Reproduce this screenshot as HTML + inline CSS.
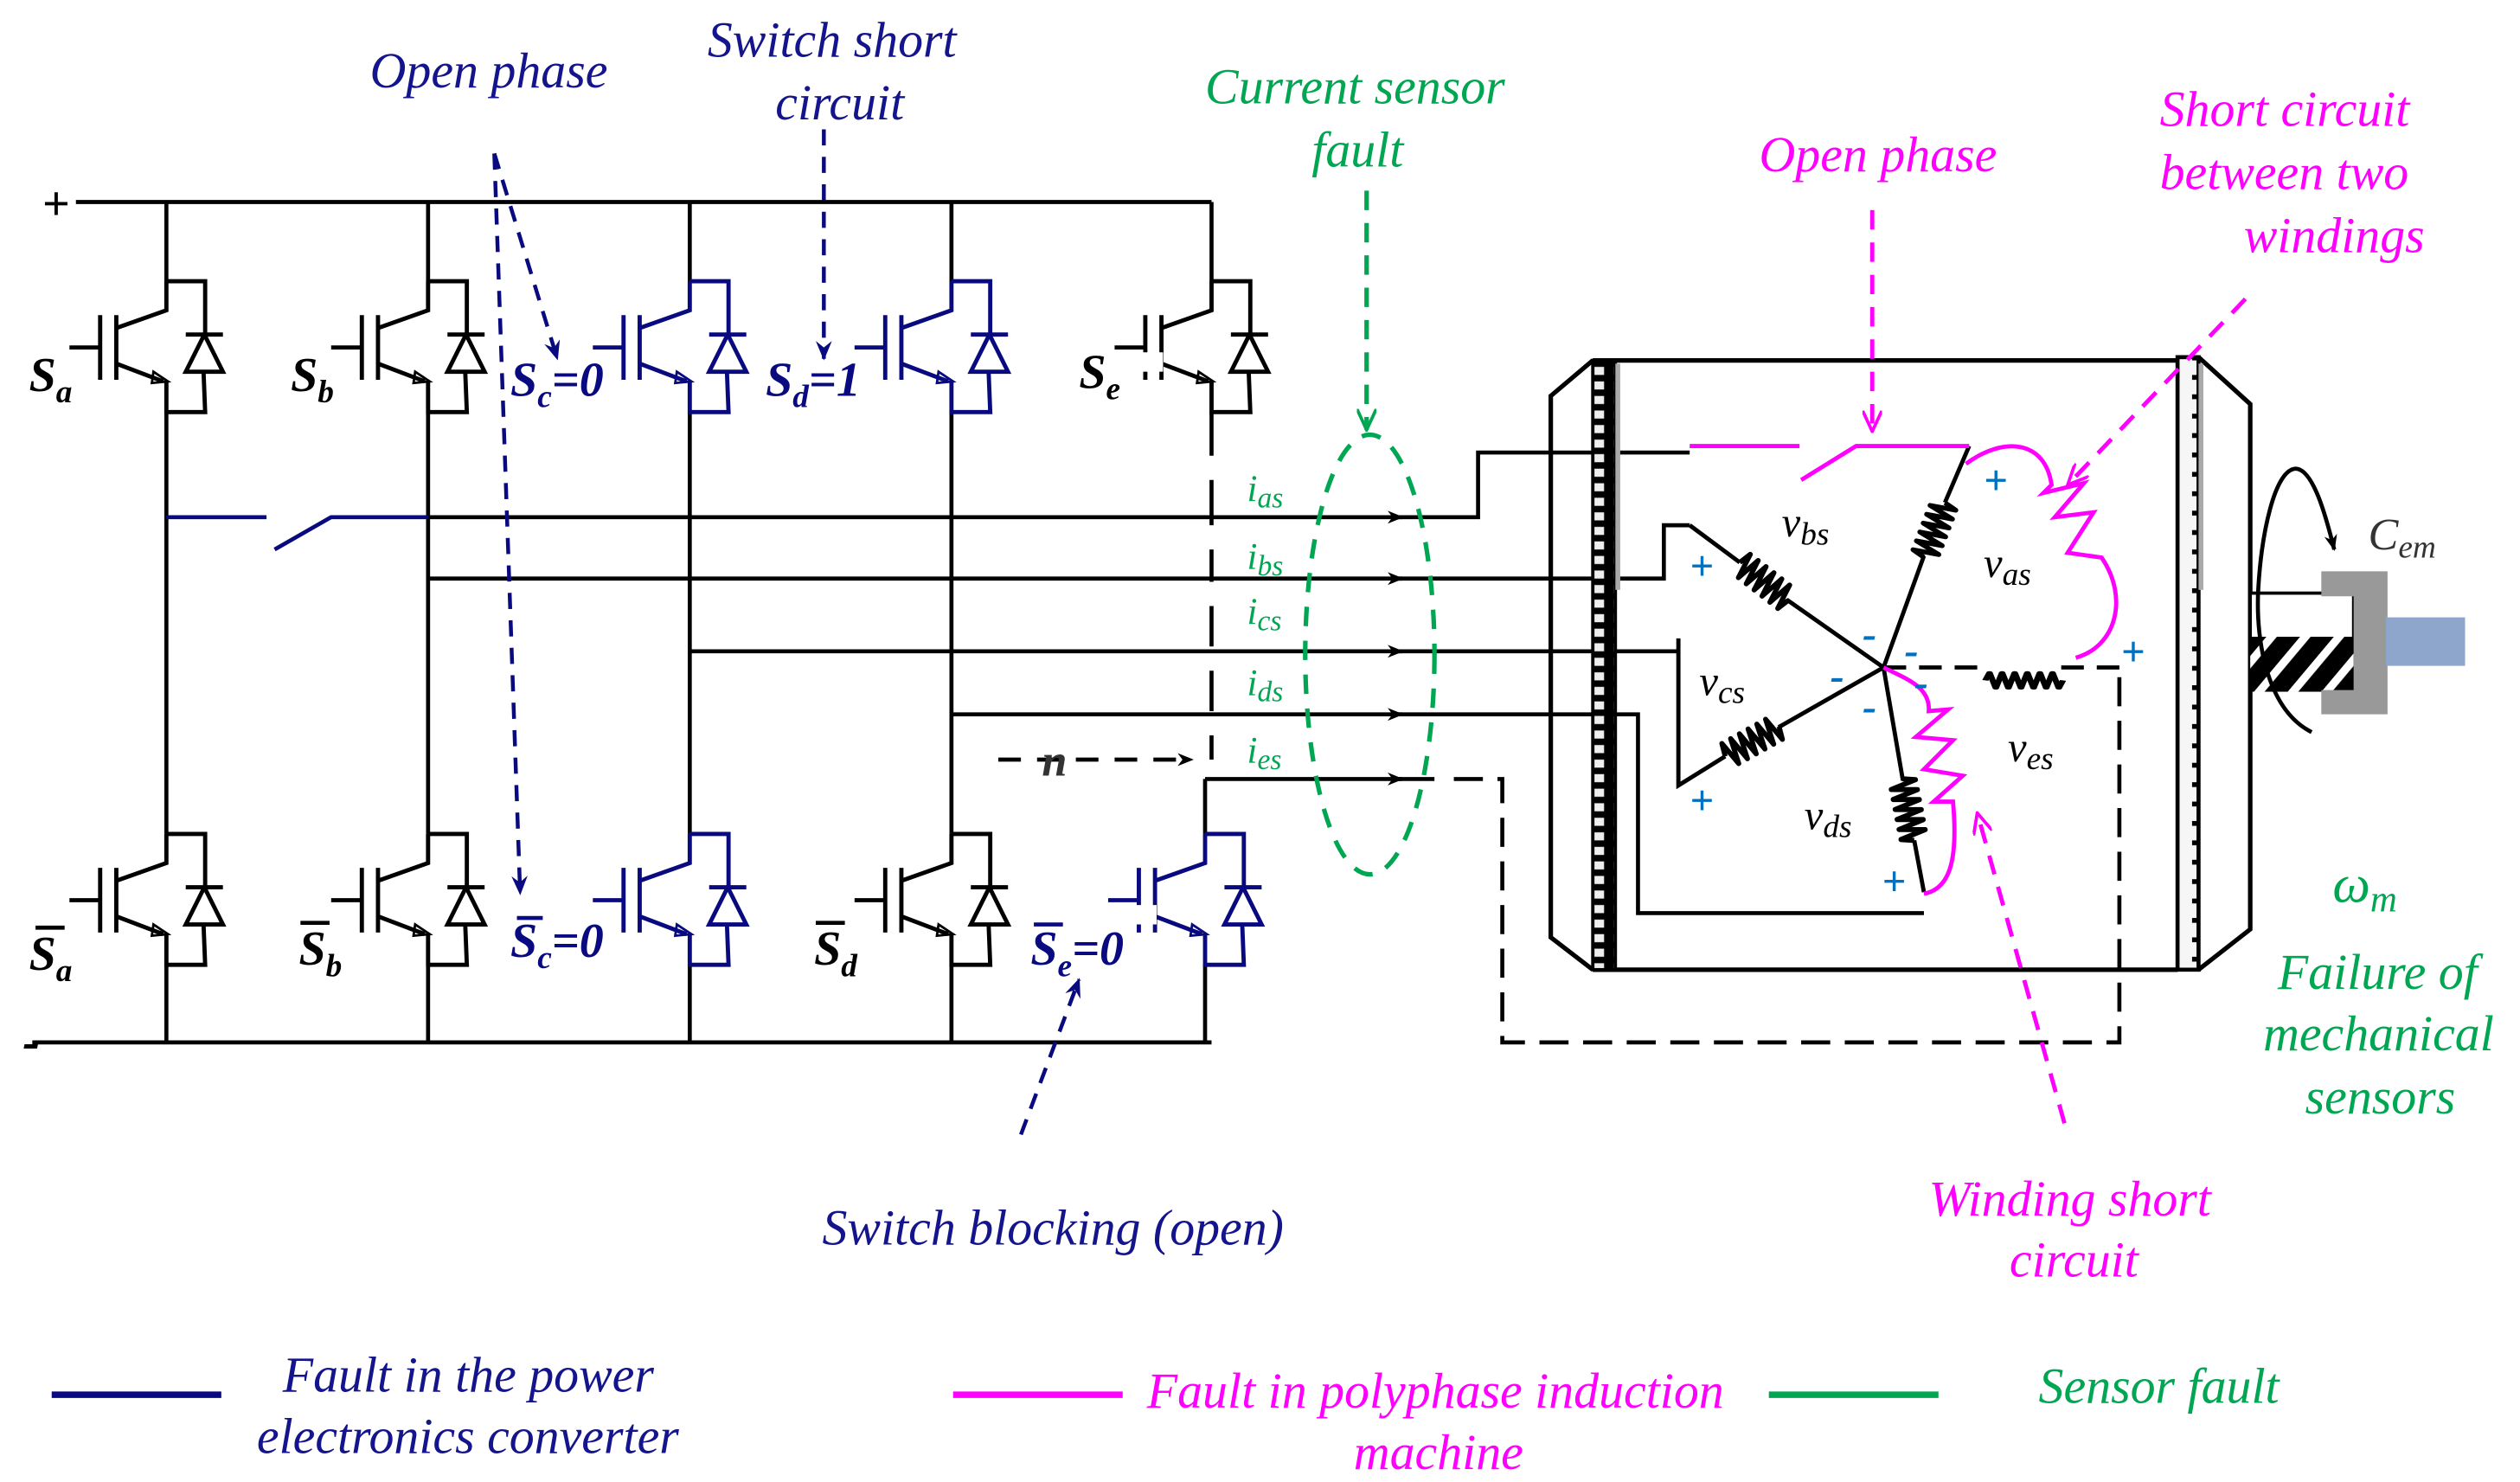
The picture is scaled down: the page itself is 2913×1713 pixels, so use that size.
<!DOCTYPE html>
<html><head><meta charset="utf-8"><style>
html,body{margin:0;padding:0;background:#fff;}
svg{display:block;}
text{font-family:"Liberation Serif",serif;font-style:italic;}
</style></head><body>
<svg width="2913" height="1713" viewBox="0 0 1560 917" preserveAspectRatio="none" xmlns="http://www.w3.org/2000/svg">
<defs>
<marker id="ak" markerWidth="10" markerHeight="8" refX="9" refY="4" orient="auto" markerUnits="userSpaceOnUse"><path d="M0,0 L10,4 L0,8 L3,4 Z" fill="#000"/></marker>
<marker id="ab" markerWidth="12" markerHeight="10" refX="11" refY="5" orient="auto" markerUnits="userSpaceOnUse"><path d="M0,0 L12,5 L0,10 L4,5 Z" fill="#0a0a80"/></marker>
<marker id="am" markerWidth="14" markerHeight="12" refX="13" refY="6" orient="auto" markerUnits="userSpaceOnUse"><path d="M0,0 L13,6 L0,12" fill="none" stroke="#ff00ff" stroke-width="2"/></marker>
<marker id="ag" markerWidth="14" markerHeight="12" refX="13" refY="6" orient="auto" markerUnits="userSpaceOnUse"><path d="M0,0 L13,6 L0,12" fill="none" stroke="#00a651" stroke-width="2"/></marker>
<g id="sw" fill="none" stroke-width="2.6">
  <path d="M0,0 V18 L-31,29 M-31,21 V61 M-41,21 V61 M-60,41 H-41 M-31,51 L-2,62 M0,62 V81 H24 L23,56 M0,0 H24 V32"/>
  <path d="M12,33 H35 M12,56 H35 L23.5,33 Z"/>
  <path d="M-8,56 L1,62 L-9,63 Z" stroke-width="1.5"/>
</g>
<path id="coil" d="M0,0 l2,-8 l3,16 l3,-16 l3,16 l3,-16 l3,16 l3,-16 l3,16 l3,-16 l3,16 l3,-16 l3,16 l2,-8" fill="none" stroke="#000" stroke-width="3" stroke-linejoin="round"/>
<pattern id="chk" width="12" height="9" patternUnits="userSpaceOnUse"><rect width="12" height="9" fill="#000"/><rect x="3" y="2" width="6" height="5" fill="#eee"/></pattern>
<pattern id="dots" width="13" height="12" patternUnits="userSpaceOnUse"><rect width="13" height="12" fill="#f6f6f6"/><rect x="5" y="4" width="3" height="3" fill="#000"/></pattern>
<pattern id="hatch" width="16" height="16" patternUnits="userSpaceOnUse" patternTransform="rotate(40)"><rect width="16" height="16" fill="#000"/><rect width="5" height="16" fill="#fff"/></pattern>
</defs>

<!-- buses -->
<g stroke="#000" stroke-width="2.5" fill="none">
<path d="M47,125 H750 M20,645 H750"/>
<path d="M103,125 V174 M103,255 V516 M103,597 V645"/>
<path d="M265,125 V174 M265,255 V516 M265,597 V645"/>
<path d="M427,125 V174 M427,255 V516 M427,597 V645"/>
<path d="M589,125 V174 M589,255 V516 M589,597 V645"/>
<path d="M750,125 V174 M750,255 V282 M750,297 V325 M750,340 V360 M750,375 V400 M750,415 V440 M750,455 V470 M746,482 V516 M746,597 V645"/>
</g>
<text x="26" y="136" font-style="normal" font-weight="bold" font-family="Liberation Sans" font-size="30">+</text>
<text x="14" y="655" font-style="normal" font-weight="bold" font-family="Liberation Sans" font-size="32">-</text>

<!-- switches -->
<use href="#sw" x="103" y="174" stroke="#000"/>
<use href="#sw" x="265" y="174" stroke="#000"/>
<use href="#sw" x="427" y="174" stroke="#0a0a80"/>
<use href="#sw" x="589" y="174" stroke="#0a0a80"/>
<use href="#sw" x="750" y="174" stroke="#000"/>
<use href="#sw" x="103" y="516" stroke="#000"/>
<use href="#sw" x="265" y="516" stroke="#000"/>
<use href="#sw" x="427" y="516" stroke="#0a0a80"/>
<use href="#sw" x="589" y="516" stroke="#000"/>
<use href="#sw" x="746" y="516" stroke="#0a0a80"/>
<!-- gaps to show blocked gates -->
<g fill="#fff"><rect x="706" y="218" width="14" height="12"/><rect x="702" y="560" width="14" height="12"/></g>

<!-- switch labels -->
<g font-weight="bold" font-size="30">
<text x="18" y="242">S<tspan font-size="20" dy="7">a</tspan></text>
<text x="180" y="242">S<tspan font-size="20" dy="7">b</tspan></text>
<text x="316" y="245" fill="#0a0a80">S<tspan font-size="20" dy="7">c</tspan><tspan dy="-7">=0</tspan></text>
<text x="474" y="245" fill="#0a0a80">S<tspan font-size="20" dy="7">d</tspan><tspan dy="-7">=1</tspan></text>
<text x="668" y="240">S<tspan font-size="20" dy="7">e</tspan></text>
<text x="18" y="600">S<tspan font-size="20" dy="7">a</tspan></text>
<text x="185" y="597">S<tspan font-size="20" dy="7">b</tspan></text>
<text x="316" y="592" fill="#0a0a80">S<tspan font-size="20" dy="7">c</tspan><tspan dy="-7">=0</tspan></text>
<text x="504" y="597">S<tspan font-size="20" dy="7">d</tspan></text>
<text x="638" y="597" fill="#0a0a80">S<tspan font-size="20" dy="7">e</tspan><tspan dy="-7">=0</tspan></text>
</g>
<g stroke-width="2.5"><path d="M22,574 H40 M186,571 H204 M505,571 H523" stroke="#000"/><path d="M320,568 H336 M640,572 H658" stroke="#0a0a80"/></g>

<!-- phase lines -->
<g stroke="#0a0a80" stroke-width="2.5" fill="none"><path d="M103,320 H165 M170,340 L205,320 H265"/></g>
<g stroke="#000" stroke-width="2.5" fill="none">
<path d="M265,320 H868" marker-end="url(#ak)"/><path d="M865,320 H915 V280 H1046"/>
<path d="M265,358 H868" marker-end="url(#ak)"/><path d="M865,358 H1030 V325 H1046"/>
<path d="M427,403 H868" marker-end="url(#ak)"/><path d="M865,403 H1039"/>
<path d="M589,442 H868" marker-end="url(#ak)"/><path d="M865,442 H1014 V565 H1191"/>
<path d="M746,482 H868" marker-end="url(#ak)"/><path d="M865,482 H888"/>
<path d="M900,482 H930 V645 H1312 V413" stroke-dasharray="18,9"/>
<path d="M618,470 H738" stroke-dasharray="14,10" marker-end="url(#ak)"/>
</g>
<text x="645" y="480" font-weight="bold" font-size="28" fill="#333">n</text>
<g fill="#00a651" font-size="23">
<text x="772" y="310">i<tspan font-size="18" dy="4">as</tspan></text>
<text x="772" y="352">i<tspan font-size="18" dy="4">bs</tspan></text>
<text x="772" y="386">i<tspan font-size="18" dy="4">cs</tspan></text>
<text x="772" y="430">i<tspan font-size="18" dy="4">ds</tspan></text>
<text x="772" y="472">i<tspan font-size="18" dy="4">es</tspan></text>
</g>
<ellipse cx="848" cy="405" rx="40" ry="136" fill="none" stroke="#00a651" stroke-width="2.8" stroke-dasharray="12,9"/>
<path d="M846,118 V266" stroke="#00a651" stroke-width="2.8" stroke-dasharray="12,8" fill="none" marker-end="url(#ag)"/>

<!-- machine -->
<g stroke="#000" stroke-width="2.8" fill="none">
<path d="M986,223 H1348 M986,600 H1348 M986,223 L960,245 V580 L986,600"/>
<path d="M1361,221 L1393,250 V575 L1361,600"/>
</g>
<rect x="986" y="223" width="14" height="377" fill="url(#chk)" stroke="#000" stroke-width="2"/>
<rect x="1000" y="225" width="3" height="140" fill="#aaa"/>
<rect x="1348" y="221" width="13" height="379" fill="url(#dots)" stroke="#000" stroke-width="2.5"/>
<rect x="1361" y="225" width="3" height="140" fill="#aaa"/>

<!-- shaft -->
<rect x="1393" y="367" width="64" height="60" fill="#fff" stroke="#000" stroke-width="2"/>
<rect x="1393" y="394" width="64" height="34" fill="url(#hatch)"/>
<path d="M1437,353.5 H1478 V442 H1437 V427 H1457 V369 H1437 Z" fill="#999"/>
<rect x="1477" y="382" width="49" height="30" fill="#8ea6cc"/>
<path d="M1431,453 C1405,440 1396,400 1398,364 C1400,330 1408,291 1421,290 C1432,290 1440,320 1445,340" fill="none" stroke="#000" stroke-width="2.5" marker-end="url(#ak)"/>
<text x="1466" y="340" font-size="28" fill="#333">C<tspan font-size="20" dy="5">em</tspan></text>

<!-- windings -->
<g stroke="#000" stroke-width="2.6" fill="none">
<path d="M1219,276 L1204,311 M1191,344 L1166,413 L1106,371 M1077,348 L1046,325"/>
<path d="M1166,413 L1101,450 M1068,468 L1039,486 V395"/>
<path d="M1166,413 L1178,483 M1185,520 L1191,552"/>
<path d="M1166,413 H1229" stroke-dasharray="14,8"/>
<path d="M1276,413 H1312" stroke-dasharray="14,8"/>
</g>
<use href="#coil" transform="translate(1204,311) rotate(111) scale(0.98,1)"/>
<use href="#coil" transform="translate(1077,348) rotate(38) scale(1.03,1)"/>
<use href="#coil" transform="translate(1068,468) rotate(-29) scale(1.03,1)"/>
<use href="#coil" transform="translate(1185,520) rotate(-101) scale(1.05,1)"/>
<use href="#coil" transform="translate(1229,421) scale(1.3,0.6)"/>
<!-- magenta elements -->
<g stroke="#ff00ff" stroke-width="2.6" fill="none">
<path d="M1046,276 H1114 M1115,297 L1149,276 H1219"/>
<path d="M1217,287 C1240,270 1266,272 1270,300 L1265,305 L1290,299 L1272,320 L1296,317 L1280,342 L1301,345 C1318,370 1310,400 1285,407"/>
<path d="M1166,413 C1180,420 1195,425 1194,440 L1206,439 L1186,456 L1209,458 L1191,476 L1215,480 L1197,496 L1209,496 C1212,530 1208,550 1191,553"/>
<path d="M1159,130 V267" stroke-dasharray="12,8" marker-end="url(#am)"/>
<path d="M1390,185 L1280,300" stroke-dasharray="12,8" marker-end="url(#am)"/>
<path d="M1278,695 L1224,503" stroke-dasharray="12,8" marker-end="url(#am)"/>
</g>
<g fill="#0070c0" font-family="Liberation Sans" font-style="normal" font-weight="bold" font-size="26">
<text x="1228" y="306">+</text><text x="1046" y="359">+</text><text x="1046" y="504">+</text><text x="1165" y="554">+</text><text x="1313" y="412">+</text>
<text x="1153" y="401">-</text><text x="1179" y="411">-</text><text x="1133" y="427">-</text><text x="1185" y="431">-</text><text x="1153" y="446">-</text>
</g>
<g font-size="26" fill="#000">
<text x="1103" y="332">v<tspan font-size="20" dy="5">bs</tspan></text>
<text x="1228" y="357">v<tspan font-size="20" dy="5">as</tspan></text>
<text x="1052" y="430">v<tspan font-size="20" dy="5">cs</tspan></text>
<text x="1117" y="513">v<tspan font-size="20" dy="5">ds</tspan></text>
<text x="1243" y="471">v<tspan font-size="20" dy="5">es</tspan></text>
</g>

<!-- navy arrows -->
<g stroke="#0a0a80" stroke-width="2.4" fill="none" stroke-dasharray="10,7">
<path d="M306,95 L345,222" marker-end="url(#ab)"/>
<path d="M306,95 L322,553" marker-end="url(#ab)"/>
<path d="M510,80 V222" marker-end="url(#ab)"/>
<path d="M632,702 L668,606" marker-end="url(#ab)"/>
</g>

<!-- texts -->
<g font-size="31">
<text x="229" y="54" fill="#14148c">Open phase</text>
<text x="438" y="35" fill="#14148c">Switch short</text>
<text x="480" y="74" fill="#14148c">circuit</text>
<text x="746" y="64" fill="#00a651">Current sensor</text>
<text x="812" y="103" fill="#00a651">fault</text>
<text x="1089" y="106" fill="#ff00ff">Open phase</text>
<text x="1337" y="78" fill="#ff00ff">Short circuit</text>
<text x="1337" y="117" fill="#ff00ff">between two</text>
<text x="1389" y="156" fill="#ff00ff">windings</text>
<text x="1444" y="558" fill="#00a651" font-size="33">ω<tspan font-size="23" dy="6">m</tspan></text>
<text x="1410" y="612" fill="#00a651">Failure of</text>
<text x="1401" y="650" fill="#00a651">mechanical</text>
<text x="1427" y="689" fill="#00a651">sensors</text>
<text x="509" y="770" fill="#14148c">Switch blocking (open)</text>
<text x="1194" y="752" fill="#ff00ff">Winding short</text>
<text x="1244" y="790" fill="#ff00ff">circuit</text>
<text x="175" y="861" fill="#14148c">Fault in the power</text>
<text x="159" y="899" fill="#14148c">electronics converter</text>
<text x="710" y="871" fill="#ff00ff">Fault in polyphase induction</text>
<text x="838" y="909" fill="#ff00ff">machine</text>
<text x="1262" y="868" fill="#00a651">Sensor fault</text>
</g>
<g stroke-width="4">
<path d="M32,863 H137" stroke="#0a0a80"/>
<path d="M590,863 H695" stroke="#ff00ff"/>
<path d="M1095,863 H1200" stroke="#00a651"/>
</g>
</svg>
</body></html>
